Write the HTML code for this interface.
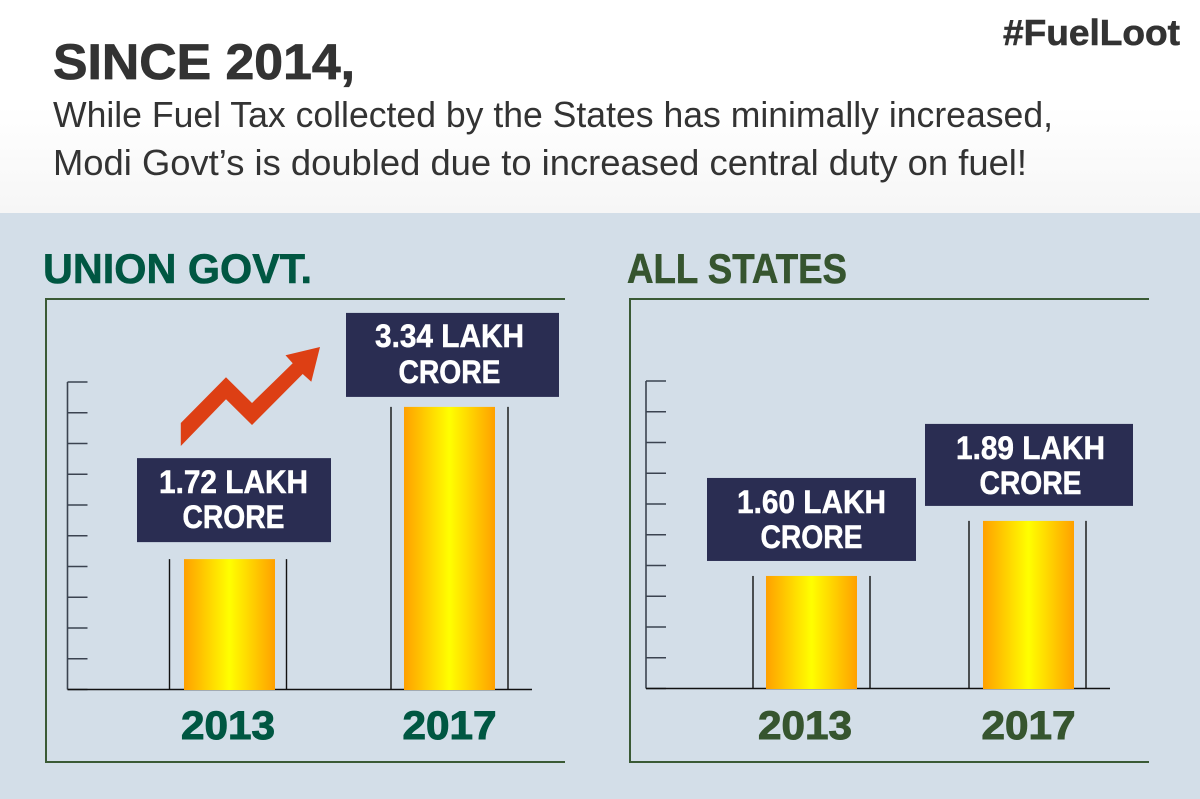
<!DOCTYPE html>
<html lang="en">
<head>
<meta charset="utf-8">
<title>Since 2014 Fuel Tax</title>
<style>
html,body{margin:0;padding:0;background:#d3dee8;}
svg{display:block;}
text{font-family:"Liberation Sans",sans-serif;}
</style>
</head>
<body>
<svg id="chart" xmlns="http://www.w3.org/2000/svg" width="1200" height="799" viewBox="0 0 1200 799">
  <defs>
    <linearGradient id="headFade" x1="0" y1="0" x2="0" y2="1">
      <stop offset="0" stop-color="#ffffff"/>
      <stop offset="0.5" stop-color="#ffffff"/>
      <stop offset="1" stop-color="#f6f6f6"/>
    </linearGradient>
    <linearGradient id="barFill" x1="0" y1="0" x2="1" y2="0">
      <stop offset="0" stop-color="#ffa000"/>
      <stop offset="0.5" stop-color="#ffff00"/>
      <stop offset="1" stop-color="#ffa000"/>
    </linearGradient>
  </defs>
  <rect x="0" y="213" width="1200" height="586" fill="#d3dee8"/>
  <rect x="0" y="0" width="1200" height="213" fill="url(#headFade)"/>

  <text x="1003" y="45" font-size="36" font-weight="700" fill="#333333" stroke="#333333" stroke-width="0.6" textLength="177" lengthAdjust="spacingAndGlyphs">#FuelLoot</text>
  <text x="53" y="79" font-size="50" font-weight="700" fill="#333333" stroke="#333333" stroke-width="0.8" textLength="302" lengthAdjust="spacingAndGlyphs">SINCE 2014,</text>
  <text x="53" y="127" font-size="36" fill="#333333" textLength="1000" lengthAdjust="spacingAndGlyphs">While Fuel Tax collected by the States has minimally increased,</text>
  <text x="53" y="175" font-size="36" fill="#333333" textLength="974" lengthAdjust="spacingAndGlyphs">Modi Govt’s is doubled due to increased central duty on fuel!</text>

  <text x="43" y="283" font-size="42" font-weight="700" fill="#005742" stroke="#005742" stroke-width="0.6" textLength="269" lengthAdjust="spacingAndGlyphs">UNION GOVT.</text>
  <text x="627" y="283" font-size="42" font-weight="700" fill="#36552f" stroke="#36552f" stroke-width="0.6" textLength="220" lengthAdjust="spacingAndGlyphs">ALL STATES</text>

  <path d="M565 299H46V762H565" fill="none" stroke="#3a5a35" stroke-width="2"/>
  <path d="M1149 299H630V762H1149" fill="none" stroke="#3a5a35" stroke-width="2"/>

  <g id="unionChart"></g>
  <g id="statesChart"></g>

  <polygon fill="#dd3f14" points="180.8,423 226,377.3 252,403 292.7,363.3 285.5,355.3 320,347 311.3,381.7 302.7,374 252,425 226,399.3 180.8,446"/>
</svg>
<script>
// Categories and printed values
const categories = ['2013', '2017'];
const unionPrinted = ['1.72', '3.34'];
const statesPrinted = ['1.60', '1.89'];
// Bar heights as read against the drawn tick marks (in tick intervals)
const unionHeights = [4.24, 9.19];
const statesHeights = [3.66, 5.45];
const tickValues = [0, 1, 2, 3, 4, 5, 6, 7, 8, 9, 10];

const NS = 'http://www.w3.org/2000/svg';
function make(parent, tag, attrs, content) {
  const el = document.createElementNS(NS, tag);
  Object.keys(attrs).forEach(function (k) { el.setAttribute(k, attrs[k]); });
  if (content !== undefined) el.textContent = content;
  parent.appendChild(el);
  return el;
}

function drawChart(rootId, prefix, heights, printed, frame) {
  const root = document.getElementById(rootId);
  const yScale = function (v) { return frame.baseY - v * frame.tickStep; };
  const xScale = function (i) { return frame.firstX + i * frame.stepX; };

  tickValues.forEach(function (t) {
    const tick = make(root, 'line', {x1: frame.axisX, x2: frame.axisX + 20, y1: yScale(t), y2: yScale(t), stroke: '#3b4350', 'stroke-width': 1.6});
    
    
  });
  const axis = make(root, 'line', {x1: frame.axisX, x2: frame.axisX, y1: yScale(10), y2: yScale(0), stroke: '#3b4350', 'stroke-width': 1.6});
  
  
  const base = make(root, 'line', {x1: frame.axisX, x2: frame.endX, y1: yScale(0), y2: yScale(0), stroke: '#111111', 'stroke-width': 1.5});
  
  

  categories.forEach(function (cat, i) {
    const cx = xScale(i);
    const top = yScale(heights[i]);
    [-1, 1].forEach(function (side) {
      const gx = cx + side * 58.5 + frame.guideShift[i];
      const guide = make(root, 'line', {x1: gx, x2: gx, y1: top, y2: yScale(0), stroke: '#111111', 'stroke-width': 1.4});
      
      
    });
    const bar = make(root, 'rect', {x: cx - 45.5, y: top, width: 91, height: yScale(0) - top + 0.5, fill: 'url(#barFill)'});
    
    

    const boxBottom = top - frame.boxGap[i];
    const boxCx = cx + frame.boxShift[i];
    const box = make(root, 'rect', {x: boxCx - frame.boxW[i] / 2, y: boxBottom - frame.boxH[i], width: frame.boxW[i], height: frame.boxH[i], fill: '#2a2d52'});
    
    
    const textCx = cx + frame.textShift[i];
    const line1 = make(root, 'text', {x: textCx - 74.5, y: boxBottom - frame.line1Up[i], 'font-size': 32, 'font-weight': 700, fill: '#ffffff', stroke: '#ffffff', 'stroke-width': 0.5, textLength: 149, lengthAdjust: 'spacingAndGlyphs'}, printed[i] + ' LAKH');
    
    
    const line2 = make(root, 'text', {x: textCx - 51, y: boxBottom - frame.line2Up[i], 'font-size': 32, 'font-weight': 700, fill: '#ffffff', stroke: '#ffffff', 'stroke-width': 0.5, textLength: 102, lengthAdjust: 'spacingAndGlyphs'}, 'CRORE');
    
    

    const year = make(root, 'text', {x: cx - 47.5 + frame.yearShift[i], y: 739, 'font-size': 40, 'font-weight': 700, fill: frame.yearColor, stroke: frame.yearColor, 'stroke-width': 1, textLength: 94, lengthAdjust: 'spacingAndGlyphs'}, cat);
    
    
  });
}

drawChart('unionChart', 'union', unionHeights, unionPrinted, {
  baseY: 689.5, tickStep: 30.75, axisX: 67.5, endX: 532, firstX: 229.5, stepX: 220,
  boxGap: [17, 10], boxShift: [4.5, 3], boxW: [194, 213], boxH: [84, 84],
  textShift: [4, 0], line1Up: [49, 50], line2Up: [14, 14], guideShift: [-1.5, 0],
  yearShift: [-1, 0.5], yearColor: '#005742'
});
drawChart('statesChart', 'states', statesHeights, statesPrinted, {
  baseY: 688.5, tickStep: 30.75, axisX: 646, endX: 1110, firstX: 811.5, stepX: 217,
  boxGap: [15, 15], boxShift: [0, 0.5], boxW: [209, 208], boxH: [83, 82],
  textShift: [0, 2], line1Up: [48, 47], line2Up: [13, 12], guideShift: [0, -1],
  yearShift: [-6, 0.5], yearColor: '#36552f'
});
</script>
</body>
</html>
